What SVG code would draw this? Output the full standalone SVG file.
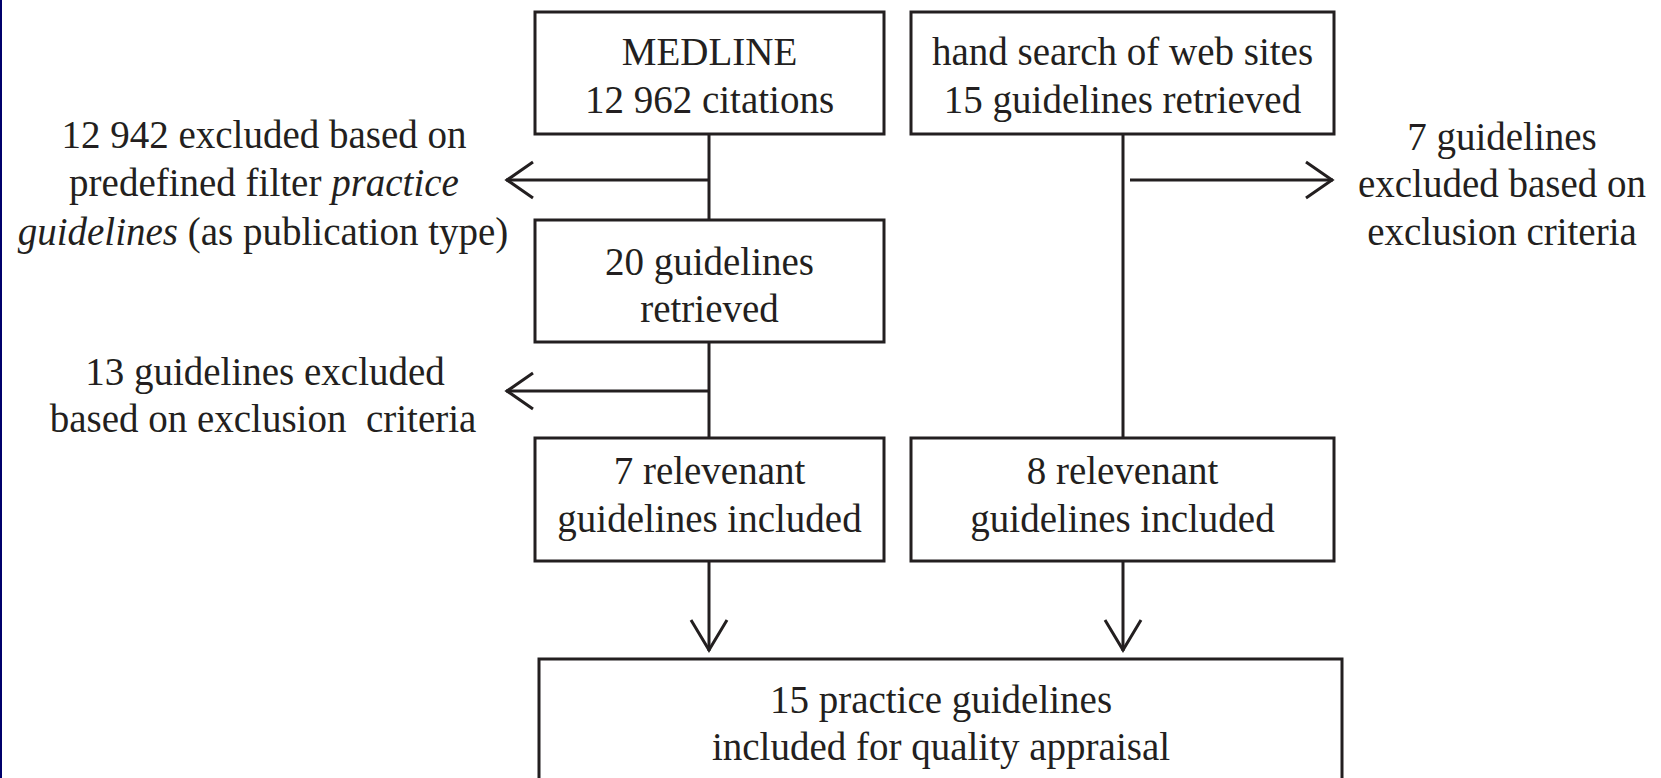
<svg xmlns="http://www.w3.org/2000/svg" width="1661" height="778" viewBox="0 0 1661 778">
<style>
.box{fill:#fff;stroke:#231f20;stroke-width:3}
.t{font-family:"Liberation Serif","Times New Roman",serif;font-size:39px;fill:#231f20;text-anchor:middle;white-space:pre}
.ln{stroke:#231f20;stroke-width:3;fill:none}
.it{font-style:italic}
</style>
<defs>
<marker id="ah" markerUnits="userSpaceOnUse" markerWidth="40" markerHeight="40" viewBox="-35 -20 40 40" refX="0" refY="0" orient="auto" overflow="visible">
<path d="M-27,-18 L-1,0 L-27,18" fill="none" stroke="#231f20" stroke-width="3"/>
</marker>
<marker id="av" markerUnits="userSpaceOnUse" markerWidth="40" markerHeight="40" viewBox="-35 -20 40 40" refX="0" refY="0" orient="auto" overflow="visible">
<path d="M-31,-18 L-1,0 L-31,18" fill="none" stroke="#231f20" stroke-width="3"/>
</marker>
</defs>
<rect x="0" y="0" width="1661" height="778" fill="#fff"/>
<rect x="0" y="0" width="2" height="778" fill="#00006b"/>

<g id="connectors">
<path class="ln" d="M709,134 V220"/>
<path class="ln" d="M709,180 H506" marker-end="url(#ah)"/>
<path class="ln" d="M709,342 V438"/>
<path class="ln" d="M709,391 H506" marker-end="url(#ah)"/>
<path class="ln" d="M709,561 V651" marker-end="url(#av)"/>
<path class="ln" d="M1123,134 V438"/>
<path class="ln" d="M1130,180 H1333" marker-end="url(#ah)"/>
<path class="ln" d="M1123,561 V651" marker-end="url(#av)"/>
</g>

<g id="medline">
<rect class="box" x="535" y="12" width="349" height="122"/>
<text class="t" x="709.5" y="65">MEDLINE</text>
<text class="t" x="709.5" y="113">12 962 citations</text>
</g>
<g id="handsearch">
<rect class="box" x="911" y="12" width="423" height="122"/>
<text class="t" x="1122.5" y="65">hand search of web sites</text>
<text class="t" x="1122.5" y="113">15 guidelines retrieved</text>
</g>
<g id="retrieved20">
<rect class="box" x="535" y="220" width="349" height="122"/>
<text class="t" x="709.5" y="275">20 guidelines</text>
<text class="t" x="709.5" y="322">retrieved</text>
</g>
<g id="relevant7">
<rect class="box" x="535" y="438" width="349" height="123"/>
<text class="t" x="709.5" y="484">7 relevenant</text>
<text class="t" x="709.5" y="532">guidelines included</text>
</g>
<g id="relevant8">
<rect class="box" x="911" y="438" width="423" height="123"/>
<text class="t" x="1122.5" y="484">8 relevenant</text>
<text class="t" x="1122.5" y="532">guidelines included</text>
</g>
<g id="final">
<rect class="box" x="539" y="659" width="803" height="200"/>
<text class="t" x="941" y="713">15 practice guidelines</text>
<text class="t" x="941" y="760">included for quality appraisal</text>
</g>
<g id="excluded1">
<text class="t" x="264" y="148">12 942 excluded based on</text>
<text class="t" x="264" y="196">predefined filter <tspan class="it">practice</tspan></text>
<text class="t" x="263" y="245"><tspan class="it">guidelines</tspan> (as publication type)</text>
</g>
<g id="excluded2">
<text class="t" x="265" y="385">13 guidelines excluded</text>
<text class="t" x="263" y="432">based on exclusion  criteria</text>
</g>
<g id="excluded3">
<text class="t" x="1502" y="150">7 guidelines</text>
<text class="t" x="1502" y="197">excluded based on</text>
<text class="t" x="1502" y="245">exclusion criteria</text>
</g>
</svg>
